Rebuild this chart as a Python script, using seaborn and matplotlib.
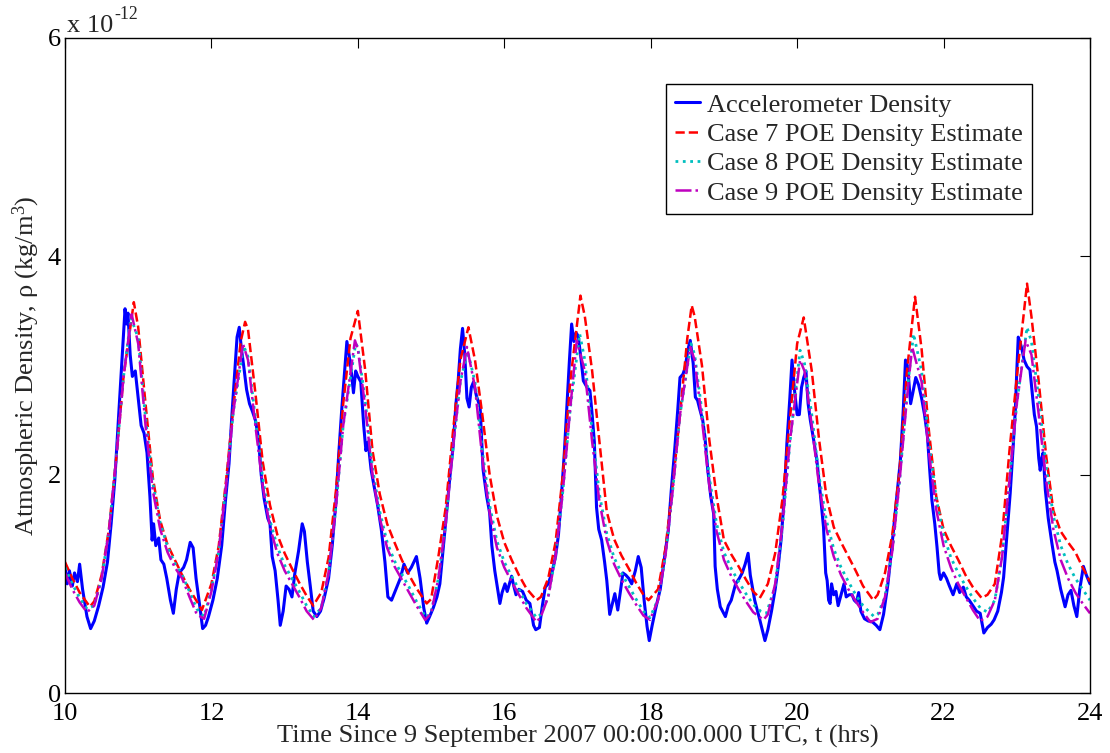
import numpy as np
import pandas as pd
import matplotlib
matplotlib.use("Agg")
import matplotlib.pyplot as plt
import seaborn as sns

# ---------------- data (density in units of 1e-12 kg/m^3, time in hours) ----------------
acc_hours = [10.00, 10.03, 10.06, 10.10, 10.13, 10.17, 10.20, 10.24, 10.30, 10.35, 10.40, 10.46, 10.52, 10.58,
             10.63, 10.68, 10.72, 10.76, 10.80, 10.82, 10.84, 10.86, 10.89, 10.92, 10.96, 11.00, 11.04, 11.08,
             11.12, 11.16, 11.19, 11.21, 11.24, 11.28, 11.31, 11.35, 11.39, 11.44, 11.48, 11.52, 11.56, 11.62,
             11.66, 11.71, 11.75, 11.79, 11.84, 11.88, 11.92, 11.96, 12.02, 12.08, 12.14, 12.19, 12.24, 12.28,
             12.32, 12.35, 12.38, 12.41, 12.44, 12.48, 12.52, 12.56, 12.60, 12.64, 12.68, 12.72, 12.77, 12.80,
             12.83, 12.87, 12.91, 12.94, 12.98, 13.02, 13.06, 13.10, 13.14, 13.19, 13.24, 13.27, 13.31, 13.35,
             13.39, 13.44, 13.49, 13.54, 13.60, 13.65, 13.70, 13.74, 13.78, 13.82, 13.85, 13.88, 13.91, 13.94,
             13.97, 14.00, 14.04, 14.08, 14.11, 14.14, 14.18, 14.22, 14.27, 14.32, 14.37, 14.41, 14.46, 14.52,
             14.58, 14.63, 14.68, 14.73, 14.80, 14.85, 14.90, 14.94, 14.98, 15.03, 15.08, 15.12, 15.17, 15.21,
             15.26, 15.30, 15.34, 15.37, 15.40, 15.43, 15.46, 15.49, 15.52, 15.55, 15.58, 15.62, 15.67, 15.71,
             15.76, 15.80, 15.83, 15.87, 15.91, 15.94, 15.97, 16.01, 16.04, 16.07, 16.10, 16.13, 16.16, 16.20,
             16.25, 16.30, 16.35, 16.40, 16.43, 16.48, 16.52, 16.56, 16.60, 16.65, 16.70, 16.74, 16.78, 16.82,
             16.85, 16.89, 16.92, 16.95, 16.98, 17.01, 17.05, 17.08, 17.13, 17.17, 17.20, 17.23, 17.26, 17.29,
             17.33, 17.37, 17.40, 17.44, 17.47, 17.51, 17.55, 17.59, 17.62, 17.66, 17.70, 17.74, 17.79, 17.83,
             17.87, 17.91, 17.95, 17.98, 18.02, 18.07, 18.13, 18.18, 18.24, 18.28, 18.33, 18.37, 18.40, 18.44,
             18.47, 18.51, 18.54, 18.58, 18.61, 18.64, 18.67, 18.71, 18.74, 18.78, 18.82, 18.86, 18.88, 18.91,
             18.95, 19.02, 19.06, 19.10, 19.16, 19.21, 19.25, 19.29, 19.33, 19.36, 19.42, 19.49, 19.56, 19.60,
             19.65, 19.70, 19.74, 19.78, 19.82, 19.86, 19.90, 19.93, 19.96, 20.00, 20.03, 20.06, 20.09, 20.12,
             20.15, 20.18, 20.23, 20.27, 20.32, 20.36, 20.39, 20.41, 20.43, 20.45, 20.47, 20.50, 20.53, 20.56,
             20.60, 20.64, 20.67, 20.71, 20.75, 20.78, 20.81, 20.84, 20.87, 20.92, 20.97, 21.03, 21.08, 21.13,
             21.18, 21.24, 21.28, 21.32, 21.37, 21.41, 21.45, 21.48, 21.51, 21.55, 21.58, 21.62, 21.66, 21.70,
             21.74, 21.78, 21.81, 21.84, 21.88, 21.91, 21.94, 21.96, 22.00, 22.04, 22.08, 22.13, 22.18, 22.22,
             22.27, 22.31, 22.35, 22.40, 22.45, 22.50, 22.55, 22.60, 22.65, 22.69, 22.74, 22.79, 22.82, 22.86,
             22.91, 22.95, 22.98, 23.00, 23.02, 23.05, 23.07, 23.10, 23.14, 23.18, 23.21, 23.24, 23.27, 23.30,
             23.32, 23.34, 23.36, 23.39, 23.43, 23.48, 23.52, 23.55, 23.60, 23.66, 23.70, 23.74, 23.78, 23.82,
             23.86, 23.91, 23.95, 24.00]
acc_rho = [1.15, 1.00, 1.12, 0.98, 1.10, 1.02, 1.18, 0.95, 0.70, 0.59, 0.66, 0.80, 0.97, 1.20,
           1.55, 1.95, 2.40, 2.85, 3.30, 3.52, 3.38, 3.48, 3.10, 2.90, 2.95, 2.70, 2.45, 2.38,
           2.20, 1.80, 1.40, 1.55, 1.35, 1.42, 1.22, 1.18, 1.05, 0.85, 0.73, 0.95, 1.10, 1.15,
           1.22, 1.38, 1.33, 1.05, 0.80, 0.59, 0.62, 0.70, 0.85, 1.05, 1.35, 1.75, 2.10, 2.55,
           2.95, 3.26, 3.35, 3.15, 3.00, 2.78, 2.65, 2.58, 2.50, 2.35, 2.00, 1.78, 1.60, 1.55,
           1.25, 1.12, 0.85, 0.62, 0.75, 0.98, 0.95, 0.88, 1.10, 1.30, 1.55, 1.48, 1.20, 0.98,
           0.75, 0.70, 0.75, 0.87, 1.05, 1.35, 1.75, 2.20, 2.60, 2.95, 3.22, 3.10, 2.95, 2.75,
           2.95, 2.90, 2.85, 2.45, 2.22, 2.30, 2.05, 1.90, 1.72, 1.50, 1.20, 0.88, 0.85, 0.95,
           1.05, 1.18, 1.10, 1.15, 1.25, 1.05, 0.78, 0.64, 0.70, 0.78, 0.88, 1.00, 1.35, 1.64,
           2.00, 2.25, 2.65, 2.86, 3.15, 3.34, 3.10, 2.70, 2.62, 2.80, 2.85, 2.72, 2.62, 2.05,
           1.80, 1.65, 1.35, 1.12, 0.95, 0.82, 0.92, 1.00, 0.93, 1.00, 1.07, 0.98, 0.90, 0.95,
           0.93, 0.85, 0.82, 0.62, 0.58, 0.60, 0.80, 0.97, 1.00, 1.10, 1.25, 1.45, 1.80, 2.20,
           2.56, 3.05, 3.38, 3.22, 3.30, 3.27, 3.05, 2.86, 2.80, 2.77, 2.55, 2.30, 1.70, 1.50,
           1.40, 1.20, 1.03, 0.72, 0.80, 0.91, 0.76, 0.95, 1.10, 1.08, 1.05, 1.00, 1.12, 1.25,
           1.15, 0.85, 0.61, 0.48, 0.62, 0.78, 0.95, 1.20, 1.49, 1.85, 2.25, 2.60, 2.89, 2.92,
           2.98, 3.15, 3.23, 3.02, 2.71, 2.68, 2.60, 2.50, 2.35, 2.04, 1.80, 1.64, 1.16, 0.95,
           0.79, 0.70, 0.80, 0.85, 1.00, 1.05, 1.10, 1.18, 1.28, 1.08, 0.85, 0.67, 0.48, 0.58,
           0.75, 0.95, 1.15, 1.40, 1.75, 2.29, 2.70, 3.05, 2.80, 2.55, 2.55, 2.80, 2.89, 2.95,
           2.65, 2.50, 2.30, 2.13, 1.80, 1.52, 1.10, 1.03, 0.85, 0.82, 1.00, 0.90, 0.93, 0.80,
           0.90, 1.00, 0.88, 0.90, 0.90, 0.85, 0.83, 0.92, 0.75, 0.68, 0.66, 0.65, 0.62, 0.58,
           0.72, 1.00, 1.25, 1.52, 1.85, 2.13, 2.60, 3.05, 2.99, 2.65, 2.75, 2.89, 2.82, 2.70,
           2.55, 2.35, 2.05, 1.77, 1.55, 1.34, 1.10, 1.04, 1.10, 1.05, 0.98, 0.90, 1.00, 0.92,
           0.97, 0.88, 0.85, 0.80, 0.75, 0.73, 0.55, 0.60, 0.63, 0.67, 0.75, 0.92, 1.06, 1.40,
           1.83, 2.25, 2.59, 2.95, 3.26, 3.20, 3.15, 3.05, 2.99, 2.96, 2.75, 2.55, 2.44, 2.15,
           2.04, 2.15, 2.20, 1.86, 1.60, 1.37, 1.20, 1.12, 0.95, 0.79, 0.90, 0.94, 0.80, 0.70,
           0.95, 1.16, 1.08, 1.00]

case7_hours = [10.0, 10.1, 10.2, 10.34, 10.4, 10.5, 10.6, 10.7, 10.8, 10.94, 11.0, 11.1, 11.2, 11.3, 11.4,
               11.5, 11.6, 11.7, 11.8, 11.87, 12.0, 12.1, 12.2, 12.3, 12.4, 12.46, 12.5, 12.6, 12.7, 12.8,
               12.9, 13.0, 13.1, 13.2, 13.3, 13.39, 13.5, 13.6, 13.7, 13.8, 13.9, 14.0, 14.1, 14.2, 14.3,
               14.4, 14.5, 14.6, 14.7, 14.8, 14.94, 15.0, 15.1, 15.2, 15.3, 15.4, 15.51, 15.6, 15.7, 15.8,
               15.9, 16.0, 16.1, 16.2, 16.3, 16.44, 16.5, 16.6, 16.7, 16.8, 16.9, 17.04, 17.1, 17.2, 17.3,
               17.4, 17.5, 17.6, 17.7, 17.8, 17.9, 17.97, 18.1, 18.2, 18.3, 18.4, 18.5, 18.56, 18.6, 18.7,
               18.8, 18.9, 19.0, 19.1, 19.2, 19.3, 19.4, 19.49, 19.6, 19.7, 19.8, 19.9, 20.0, 20.09, 20.2,
               20.3, 20.4, 20.5, 20.6, 20.7, 20.8, 20.9, 21.04, 21.1, 21.2, 21.3, 21.4, 21.5, 21.61, 21.7,
               21.8, 21.9, 22.0, 22.1, 22.2, 22.3, 22.4, 22.52, 22.6, 22.7, 22.8, 22.9, 23.0, 23.14, 23.2,
               23.3, 23.4, 23.5, 23.6, 23.7, 23.8, 23.9, 24.0]
case7_rho = [1.20, 1.05, 0.92, 0.79, 0.84, 1.08, 1.50, 2.15, 2.90, 3.58, 3.35, 2.65, 1.97, 1.58, 1.36,
             1.22, 1.08, 0.95, 0.84, 0.76, 1.00, 1.35, 1.95, 2.62, 3.22, 3.40, 3.33, 2.75, 2.12, 1.72,
             1.45, 1.28, 1.14, 1.01, 0.89, 0.80, 0.92, 1.24, 1.85, 2.65, 3.25, 3.50, 2.96, 2.22, 1.82,
             1.55, 1.38, 1.22, 1.08, 0.96, 0.82, 0.86, 1.25, 1.70, 2.40, 3.05, 3.35, 3.05, 2.55, 2.00,
             1.62, 1.38, 1.22, 1.08, 0.96, 0.85, 0.88, 1.05, 1.38, 2.00, 2.85, 3.64, 3.45, 2.95, 2.30,
             1.66, 1.41, 1.26, 1.14, 1.01, 0.90, 0.85, 0.95, 1.32, 1.90, 2.55, 3.25, 3.55, 3.45, 3.00,
             2.32, 1.80, 1.40, 1.27, 1.16, 1.04, 0.93, 0.87, 1.00, 1.28, 1.78, 2.50, 3.20, 3.44, 2.95,
             2.32, 1.80, 1.52, 1.38, 1.25, 1.12, 0.98, 0.85, 0.90, 1.10, 1.45, 2.05, 2.95, 3.63, 3.15,
             2.40, 1.80, 1.50, 1.35, 1.22, 1.08, 0.97, 0.87, 0.90, 1.00, 1.45, 2.22, 2.89, 3.75, 3.45,
             2.85, 2.18, 1.67, 1.48, 1.38, 1.29, 1.15, 1.02]

case8_hours = [10.0, 10.1, 10.2, 10.3, 10.4, 10.5, 10.6, 10.7, 10.8, 10.9, 11.0, 11.1, 11.2, 11.3, 11.4,
               11.5, 11.6, 11.7, 11.8, 11.9, 12.0, 12.1, 12.2, 12.3, 12.44, 12.5, 12.6, 12.7, 12.8, 12.9,
               13.0, 13.1, 13.2, 13.3, 13.4, 13.5, 13.6, 13.7, 13.8, 13.97, 14.0, 14.1, 14.2, 14.3, 14.4,
               14.5, 14.6, 14.7, 14.8, 14.93, 15.0, 15.1, 15.2, 15.3, 15.4, 15.5, 15.6, 15.7, 15.8, 15.9,
               16.0, 16.1, 16.2, 16.3, 16.44, 16.5, 16.6, 16.7, 16.8, 16.9, 17.03, 17.1, 17.2, 17.3, 17.4,
               17.5, 17.6, 17.7, 17.8, 17.9, 17.99, 18.1, 18.2, 18.3, 18.4, 18.55, 18.6, 18.7, 18.8, 18.9,
               19.0, 19.1, 19.2, 19.3, 19.4, 19.5, 19.58, 19.7, 19.8, 19.9, 20.04, 20.1, 20.2, 20.3, 20.4,
               20.5, 20.6, 20.7, 20.8, 20.9, 21.05, 21.1, 21.2, 21.3, 21.4, 21.5, 21.59, 21.7, 21.8, 21.9,
               22.0, 22.1, 22.2, 22.3, 22.4, 22.5, 22.6, 22.7, 22.8, 22.9, 23.0, 23.14, 23.2, 23.3, 23.4,
               23.5, 23.6, 23.7, 23.8, 23.9, 24.0]
case8_rho = [1.15, 1.00, 0.87, 0.77, 0.80, 1.05, 1.48, 2.15, 2.90, 3.44, 3.25, 2.52, 1.92, 1.56, 1.34,
             1.19, 1.08, 0.93, 0.77, 0.70, 0.95, 1.30, 1.90, 2.58, 3.18, 3.08, 2.52, 1.97, 1.58, 1.34,
             1.17, 1.05, 0.93, 0.80, 0.70, 0.78, 1.10, 1.70, 2.45, 3.20, 3.17, 2.68, 2.06, 1.66, 1.38,
             1.21, 1.09, 0.97, 0.84, 0.69, 0.74, 1.05, 1.55, 2.25, 2.85, 3.13, 2.85, 2.22, 1.72, 1.39,
             1.20, 1.07, 0.95, 0.82, 0.69, 0.72, 0.88, 1.25, 1.85, 2.60, 3.29, 3.05, 2.40, 1.82, 1.46,
             1.24, 1.10, 0.98, 0.86, 0.75, 0.69, 0.86, 1.25, 1.85, 2.55, 3.20, 3.10, 2.58, 1.98, 1.55,
             1.29, 1.14, 1.02, 0.91, 0.81, 0.75, 0.73, 0.98, 1.52, 2.28, 3.14, 3.02, 2.55, 1.98, 1.58,
             1.32, 1.15, 1.02, 0.90, 0.80, 0.70, 0.72, 0.88, 1.30, 1.95, 2.75, 3.29, 2.95, 2.30, 1.78,
             1.45, 1.24, 1.10, 0.98, 0.87, 0.78, 0.74, 0.85, 1.25, 1.95, 2.65, 3.35, 3.22, 2.70, 2.08,
             1.62, 1.35, 1.18, 1.05, 0.95, 0.85]

case9_hours = [10.0, 10.1, 10.2, 10.3, 10.4, 10.5, 10.6, 10.7, 10.8, 10.91, 11.0, 11.1, 11.2, 11.3, 11.4,
               11.5, 11.6, 11.7, 11.8, 11.9, 12.0, 12.1, 12.2, 12.3, 12.43, 12.5, 12.6, 12.7, 12.8, 12.9,
               13.0, 13.1, 13.2, 13.3, 13.4, 13.5, 13.6, 13.7, 13.8, 13.96, 14.0, 14.1, 14.2, 14.3, 14.4,
               14.5, 14.6, 14.7, 14.8, 14.92, 15.0, 15.1, 15.2, 15.3, 15.4, 15.49, 15.6, 15.7, 15.8, 15.9,
               16.0, 16.1, 16.2, 16.3, 16.44, 16.5, 16.6, 16.7, 16.8, 16.9, 16.99, 17.1, 17.2, 17.3, 17.4,
               17.5, 17.6, 17.7, 17.8, 17.9, 17.99, 18.1, 18.2, 18.3, 18.4, 18.54, 18.6, 18.7, 18.8, 18.9,
               19.0, 19.1, 19.2, 19.3, 19.4, 19.54, 19.6, 19.7, 19.8, 19.9, 20.04, 20.1, 20.2, 20.3, 20.4,
               20.5, 20.6, 20.7, 20.8, 20.9, 21.0, 21.1, 21.2, 21.3, 21.4, 21.5, 21.57, 21.7, 21.8, 21.9,
               22.0, 22.1, 22.2, 22.3, 22.4, 22.5, 22.6, 22.7, 22.8, 22.9, 23.0, 23.12, 23.2, 23.3, 23.4,
               23.5, 23.6, 23.7, 23.8, 23.9, 24.0]
case9_rho = [1.10, 0.95, 0.83, 0.74, 0.80, 1.05, 1.48, 2.15, 2.90, 3.47, 3.20, 2.45, 1.85, 1.50, 1.29,
             1.15, 1.05, 0.88, 0.72, 0.68, 0.93, 1.30, 1.90, 2.58, 3.20, 3.05, 2.45, 1.90, 1.52, 1.28,
             1.12, 1.00, 0.88, 0.75, 0.67, 0.78, 1.10, 1.70, 2.45, 3.23, 3.15, 2.62, 2.00, 1.60, 1.33,
             1.16, 1.04, 0.92, 0.80, 0.67, 0.73, 1.05, 1.55, 2.25, 2.85, 3.17, 2.80, 2.15, 1.65, 1.33,
             1.15, 1.02, 0.90, 0.78, 0.65, 0.70, 0.88, 1.25, 1.85, 2.60, 3.23, 2.95, 2.30, 1.75, 1.40,
             1.18, 1.04, 0.92, 0.81, 0.71, 0.67, 0.85, 1.25, 1.85, 2.55, 3.17, 3.05, 2.50, 1.90, 1.48,
             1.22, 1.07, 0.95, 0.84, 0.74, 0.67, 0.72, 1.00, 1.55, 2.30, 3.05, 2.95, 2.45, 1.90, 1.50,
             1.25, 1.08, 0.95, 0.84, 0.74, 0.65, 0.68, 0.88, 1.30, 1.95, 2.70, 3.17, 2.85, 2.20, 1.68,
             1.35, 1.15, 1.00, 0.88, 0.76, 0.66, 0.70, 0.85, 1.25, 1.95, 2.65, 3.23, 3.10, 2.55, 1.95,
             1.50, 1.22, 1.05, 0.92, 0.82, 0.73]

series_labels = ["Accelerometer Density", "Case 7 POE Density Estimate",
                 "Case 8 POE Density Estimate", "Case 9 POE Density Estimate"]
x_ticks = [10, 12, 14, 16, 18, 20, 22, 24]
y_ticks = [0, 2, 4, 6]

# ---------------- styling ----------------
sns.set_style("white")
plt.rcParams['font.family'] = ['Liberation Serif', 'DejaVu Serif']
plt.rcParams['mathtext.fontset'] = 'custom'
plt.rcParams['mathtext.rm'] = 'Liberation Serif'
plt.rcParams['mathtext.it'] = 'Liberation Serif:italic'
plt.rcParams['mathtext.bf'] = 'Liberation Serif:bold'

FS = 19
fig = plt.figure(figsize=(11.1, 7.53), dpi=100)
ax = fig.add_axes([65 / 1110, 1 - 693 / 753, 1025 / 1110, 655 / 753])

specs = [
    (acc_hours, acc_rho, series_labels[0], "#0000ff", "-", 2.2),
    (case7_hours, case7_rho, series_labels[1], "#ff0000", "--", 1.8),
    (case8_hours, case8_rho, series_labels[2], "#00bfbf", ":", 2.0),
    (case9_hours, case9_rho, series_labels[3], "#bf00bf", "-.", 1.8),
]
for h, r, lab, col, ls, lw in specs:
    df = pd.DataFrame({"hours": h, "rho": r})
    sns.lineplot(data=df, x="hours", y="rho", ax=ax, color=col, linestyle=ls,
                 linewidth=lw, label=lab, estimator=None, sort=False)

ax.set_xlim(10, 24)
ax.set_ylim(0, 6)
ax.set_xticks(x_ticks)
ax.set_yticks(y_ticks)
ax.set_xticklabels([str(v) for v in x_ticks])
ax.set_yticklabels([str(v) for v in y_ticks])
ax.tick_params(direction="in", length=7, width=0.8, top=True, right=True,
               labelsize=FS, colors="black")
ax.tick_params(axis="x", pad=7)
ax.tick_params(axis="y", pad=3)
for s in ax.spines.values():
    s.set_color("black")
    s.set_linewidth(1.0)

ax.set_xlabel("Time Since 9 September 2007 00:00:00.000 UTC, t (hrs)", fontsize=FS, labelpad=0)
ax.set_ylabel("Atmospheric Density, ρ (kg/m$^3$)", fontsize=FS, labelpad=4)

base = ax.text(0.002, 1.002, "x 10", transform=ax.transAxes, ha="left", va="bottom", fontsize=FS)
ax.annotate("-12", xy=(1.0, 1.0), xycoords=base, xytext=(1, -6), textcoords="offset points",
            ha="left", va="bottom", fontsize=FS * 0.68)

leg = ax.legend(loc="upper right", bbox_to_anchor=((1032 - 65) / 1025, (693 - 84) / 655),
                fontsize=FS, frameon=True, fancybox=False, framealpha=1, edgecolor="black",
                handlelength=0.95, handletextpad=0.25, labelspacing=0.22, borderpad=0.35,
                borderaxespad=0)
leg.get_frame().set_linewidth(1.0)

fig.savefig("out.png", dpi=100)
